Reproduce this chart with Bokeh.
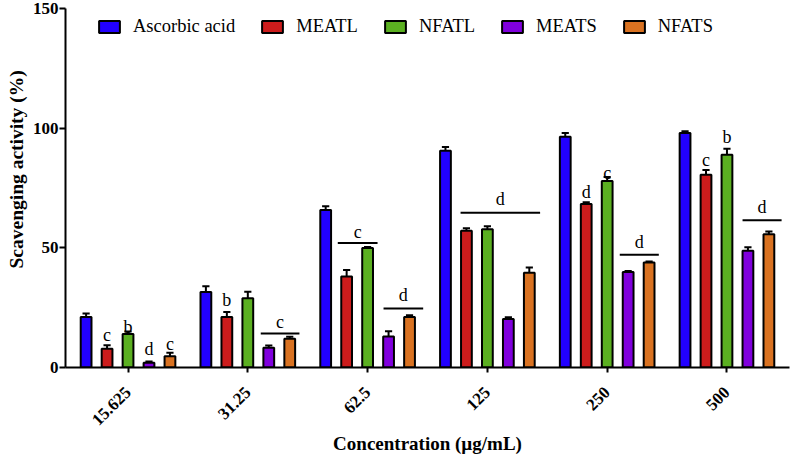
import numpy as np
from math import pi
from bokeh.plotting import figure
from bokeh.models import Range1d, FixedTicker, Legend, LegendItem, ColumnDataSource, Title
from bokeh.core.properties import value
from bokeh.embed import file_html
from bokeh.resources import INLINE

# ---------------- data ----------------
concentrations = ["15.625", "31.25", "62.5", "125", "250", "500"]
series_names = ["Ascorbic acid", "MEATL", "NFATL", "MEATS", "NFATS"]

ascorbic = [21.1, 31.5, 65.8, 90.6, 96.4, 98.0]
ascorbic_err = [1.5, 2.5, 1.6, 1.5, 1.6, 0.7]
meatl = [7.8, 21.1, 38.0, 57.1, 68.3, 80.5]
meatl_err = [1.5, 2.1, 2.7, 1.1, 0.7, 2.0]
nfatl = [14.0, 28.9, 49.9, 57.8, 77.9, 88.9]
nfatl_err = [1.0, 2.8, 0.5, 1.2, 1.7, 2.5]
meats = [2.0, 8.2, 13.0, 20.3, 39.9, 48.8]
meats_err = [0.5, 1.0, 2.1, 0.7, 0.4, 1.4]
nfats = [4.7, 12.0, 21.1, 39.6, 43.9, 55.7]
nfats_err = [1.5, 0.8, 0.7, 2.2, 0.4, 1.1]

# significance letters above single bars
bar_letter_group = [0, 0, 0, 0, 1, 4, 4, 5, 5]
bar_letter_series = [1, 2, 3, 4, 1, 1, 2, 1, 2]
bar_letter_text = ["c", "b", "d", "c", "b", "d", "c", "c", "b"]
bar_letter_y = [13.75, 17.0, 7.8, 10.0, 28.3, 73.2, 81.4, 86.7, 96.4]

# significance letters over bracket lines
line_group = [1, 2, 2, 3, 4, 5]
line_start = [0.108, -0.249, 0.133, -0.224, 0.105, 0.13]
line_end = [0.431, 0.083, 0.464, 0.44, 0.431, 0.456]
line_y = [14.2, 52.0, 24.6, 64.7, 47.1, 61.5]
line_text = ["c", "c", "d", "d", "d", "d"]
line_text_y = [19.2, 56.8, 30.4, 70.3, 52.4, 67.2]

values = [ascorbic, meatl, nfatl, meats, nfats]
errors = [ascorbic_err, meatl_err, nfatl_err, meats_err, nfats_err]
colors = ["#2200ff", "#cc1c1c", "#5bb021", "#8000dd", "#d97221"]

# ---------------- styling ----------------
SERIF = "Liberation Serif"
offsets = [-0.35, -0.175, 0.0, 0.175, 0.35]
bar_w = 0.09
cap_half = 0.03

p = figure(width=790, height=457,
           x_range=Range1d(-0.522, 5.522), y_range=Range1d(0, 150),
           output_backend="svg", toolbar_location=None,
           min_border_left=60, min_border_right=1,
           min_border_top=8, min_border_bottom=89)
p.outline_line_color = None
p.xgrid.visible = False
p.ygrid.visible = False
p.background_fill_color = "white"

idx = np.arange(len(concentrations))
legend_items = []
for name, vals, errs, col, off in zip(series_names, values, errors, colors, offsets):
    x = idx + off
    top = np.array(vals)
    up = top + np.array(errs)
    src = ColumnDataSource(dict(x=x, top=top, up=up, cl=x - cap_half, cr=x + cap_half))
    p.segment(x0="x", y0="top", x1="x", y1="up", source=src, line_color="black", line_width=2)
    p.segment(x0="cl", y0="up", x1="cr", y1="up", source=src, line_color="black", line_width=2)
    r = p.vbar(x="x", top="top", width=bar_w, source=src, fill_color=col,
               line_color="black", line_width=2)
    legend_items.append(LegendItem(label=name, renderers=[r]))

# letters above single bars
lx = [bar_letter_group[i] + offsets[bar_letter_series[i]] for i in range(len(bar_letter_group))]
p.text(x=lx, y=bar_letter_y, text=bar_letter_text, text_font=value(SERIF),
       text_font_size="18px", text_align="center", text_baseline="alphabetic", text_color="black")

# bracket lines and letters
lx0 = [g + s for g, s in zip(line_group, line_start)]
lx1 = [g + e for g, e in zip(line_group, line_end)]
p.segment(x0=lx0, y0=line_y, x1=lx1, y1=line_y, line_color="black", line_width=2)
ltx = [(a + b) / 2 for a, b in zip(lx0, lx1)]
p.text(x=ltx, y=line_text_y, text=line_text, text_font=value(SERIF),
       text_font_size="18px", text_align="center", text_baseline="alphabetic", text_color="black")

# axes
p.xaxis.ticker = FixedTicker(ticks=list(idx))
p.xaxis.major_label_overrides = {int(i): c for i, c in zip(idx, concentrations)}
p.xaxis.major_label_orientation = pi / 4
p.xaxis.major_tick_out = 5
p.xaxis.major_tick_in = 0
p.xaxis.minor_tick_out = 0
p.xaxis.major_label_standoff = 17
p.xaxis.axis_label = "Concentration (µg/mL)"
p.xaxis.axis_label_standoff = 0
p.xaxis.axis_label_text_font_size = "19px"

p.yaxis.ticker = FixedTicker(ticks=[0, 50, 100, 150])
p.yaxis.major_tick_out = 6
p.yaxis.major_tick_in = 0
p.yaxis.minor_tick_out = 0
p.yaxis.major_label_standoff = 1

for ax in (p.xaxis, p.yaxis):
    ax.axis_line_width = 2
    ax.axis_line_color = "black"
    ax.major_tick_line_width = 2
    ax.major_tick_line_color = "black"
    ax.major_label_text_font = SERIF
    ax.major_label_text_font_style = "bold"
    ax.major_label_text_font_size = "17px"
    ax.major_label_text_color = "black"
    ax.axis_label_text_font = SERIF
    ax.axis_label_text_font_style = "bold"
    ax.axis_label_text_color = "black"

# y-axis title as a left-side title, starting 99px above the frame bottom
ytitle = Title(text="Scavenging activity (%)", align="left", offset=99, standoff=6,
               text_font=SERIF, text_font_style="bold", text_font_size="19.5px",
               text_color="black")
p.add_layout(ytitle, "left")

legend = Legend(items=legend_items, orientation="horizontal", location=(31, 330),
                glyph_width=26, glyph_height=15, label_standoff=11, spacing=24,
                padding=0, margin=0, border_line_alpha=0, background_fill_alpha=0,
                label_text_font=SERIF, label_text_font_size="18.5px", label_text_color="black")
p.add_layout(legend)

open("out.html", "w").write(file_html(p, INLINE))
